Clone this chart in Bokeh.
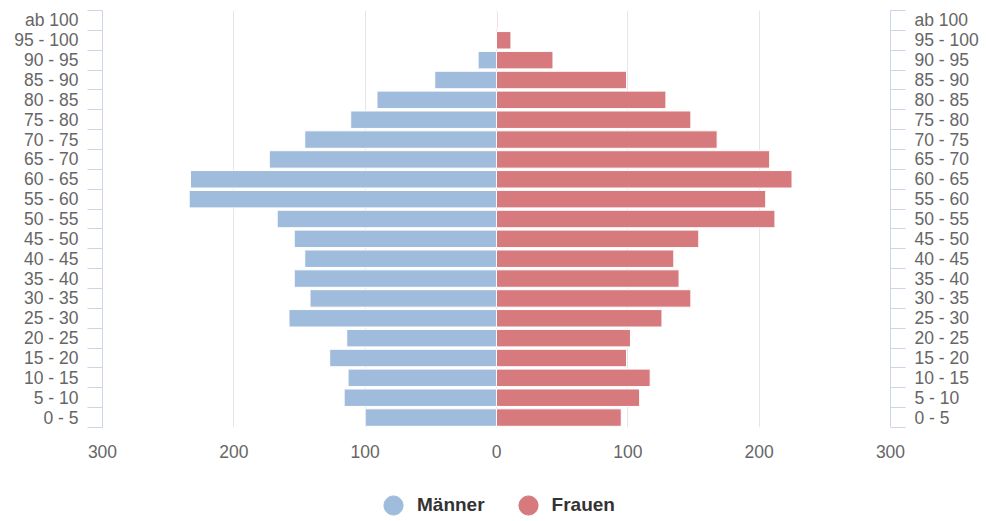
from bokeh.plotting import figure
from bokeh.layouts import column
from bokeh.models import (ColumnDataSource, FixedTicker, LinearAxis, Range1d,
                          Legend, LegendItem)
from bokeh.embed import file_html
from bokeh.resources import INLINE

age_groups = ["0 - 5", "5 - 10", "10 - 15", "15 - 20", "20 - 25", "25 - 30",
              "30 - 35", "35 - 40", "40 - 45", "45 - 50", "50 - 55", "55 - 60",
              "60 - 65", "65 - 70", "70 - 75", "75 - 80", "80 - 85", "85 - 90",
              "90 - 95", "95 - 100", "ab 100"]
male = [100, 116, 113, 127, 114, 158, 142, 154, 146, 154, 167, 234,
        233, 173, 146, 111, 91, 47, 14, 0, 0]
female = [95, 109, 117, 99, 102, 126, 148, 139, 135, 154, 212, 205,
          225, 208, 168, 148, 129, 99, 43, 11, 1]
x_ticks = [-300, -200, -100, 0, 100, 200, 300]
x_tick_labels = ["300", "200", "100", "0", "100", "200", "300"]
series_names = ["Männer", "Frauen"]

MALE_COLOR = "#a0bcdc"
FEMALE_COLOR = "#d77a7e"
AXIS_COLOR = "#ccd6eb"
LABEL_COLOR = "#666666"
FONT = "Liberation Sans"

n = len(age_groups)
ypos = list(range(n))
src = ColumnDataSource(dict(
    y=ypos,
    male_left=[-v for v in male],
    female_right=female,
    zero=[0] * n,
))

p = figure(width=999, height=468,
           x_range=Range1d(-300, 300), y_range=Range1d(-0.5, n - 0.5),
           output_backend="svg", toolbar_location=None,
           min_border_left=102, min_border_right=109,
           min_border_top=10, min_border_bottom=41)
p.outline_line_color = None
p.background_fill_color = "white"
p.border_fill_color = "white"

# grid
p.xgrid.ticker = FixedTicker(ticks=x_ticks)
p.xgrid.grid_line_color = "#e6e6e6"
p.xgrid.grid_line_width = 1
p.ygrid.grid_line_color = None

# bars
p.hbar(y="y", left="male_left", right="zero", height=0.88, source=src,
       fill_color=MALE_COLOR, line_color="white", line_width=1)
p.hbar(y="y", left="zero", right="female_right", height=0.88, source=src,
       fill_color=FEMALE_COLOR, line_color="white", line_width=1)

# x axis
xa = p.xaxis[0]
xa.ticker = FixedTicker(ticks=x_ticks)
xa.major_label_overrides = {t: l for t, l in zip(x_ticks, x_tick_labels)}
xa.axis_line_color = None
xa.major_tick_line_color = None
xa.minor_tick_line_color = None
xa.major_tick_out = 0
xa.major_tick_in = 0
xa.minor_tick_out = 0
xa.minor_tick_in = 0
xa.major_label_standoff = 17
xa.major_label_text_font = FONT
xa.major_label_text_font_size = "17.5px"
xa.major_label_text_color = LABEL_COLOR


def style_y(ax, standoff):
    ax.ticker = FixedTicker(ticks=ypos, minor_ticks=[i - 0.5 for i in range(n + 1)])
    ax.major_label_overrides = {i: lab for i, lab in zip(ypos, age_groups)}
    ax.axis_line_color = AXIS_COLOR
    ax.axis_line_width = 1
    ax.major_tick_line_color = None
    ax.major_tick_out = 0
    ax.major_tick_in = 0
    ax.minor_tick_line_color = AXIS_COLOR
    ax.minor_tick_line_width = 1
    ax.minor_tick_out = 15
    ax.minor_tick_in = 0
    ax.major_label_standoff = standoff
    ax.major_label_text_font = FONT
    ax.major_label_text_font_size = "17.5px"
    ax.major_label_text_color = LABEL_COLOR


style_y(p.yaxis[0], 9)
ra = LinearAxis()
style_y(ra, 9)
p.add_layout(ra, "right")

# legend figure
lf = figure(width=999, height=53, x_range=Range1d(0, 1), y_range=Range1d(0, 1),
            output_backend="svg", toolbar_location=None,
            x_axis_type=None, y_axis_type=None,
            min_border=0, min_border_left=0, min_border_right=0,
            min_border_top=0, min_border_bottom=0)
lf.outline_line_color = None
lf.xgrid.grid_line_color = None
lf.ygrid.grid_line_color = None
nan = float("nan")
leg_src_m = ColumnDataSource(dict(x=[nan], y=[nan]))
leg_src_f = ColumnDataSource(dict(x=[nan], y=[nan]))
r_m = lf.scatter(x="x", y="y", source=leg_src_m, marker="circle",
                 fill_color=MALE_COLOR, line_color=MALE_COLOR)
r_f = lf.scatter(x="x", y="y", source=leg_src_f, marker="circle",
                 fill_color=FEMALE_COLOR, line_color=FEMALE_COLOR)
legend = Legend(items=[LegendItem(label=series_names[0], renderers=[r_m]),
                       LegendItem(label=series_names[1], renderers=[r_f])],
                orientation="horizontal", location=(267, -8),
                glyph_width=48, glyph_height=48, label_standoff=0,
                spacing=19, padding=0, margin=0,
                border_line_color=None, background_fill_alpha=0,
                label_text_font=FONT, label_text_font_size="19px",
                label_text_font_style="bold", label_text_color="#333333")
lf.add_layout(legend, "center")

layout = column(p, lf, spacing=0)
open("out.html", "w").write(file_html(layout, INLINE))
